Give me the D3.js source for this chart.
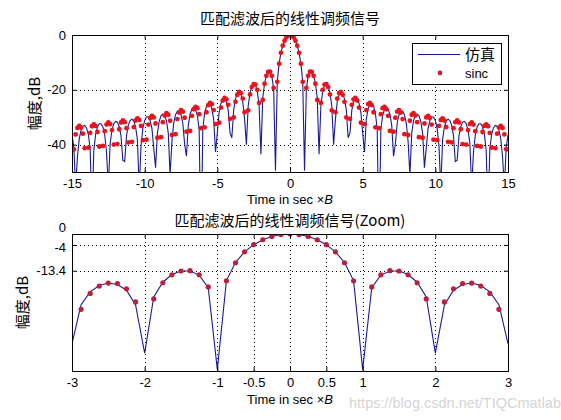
<!DOCTYPE html>
<html><head><meta charset="utf-8">
<script src="https://cdn.jsdelivr.net/npm/d3@7"></script>
<style>body{margin:0;background:#fff}svg{display:block}</style>
</head><body>
<svg id="c" width="561" height="420"></svg>
<script>
// ---- data (dB), sampled every 0.125 of Time x B ----
const sampleStep = 0.125;
const sampleFirst = -15;
// sinc reference (red dots), x = -15 ... 15
const sincDb = [
-120,-41.7,-36.3,-33.9,-33.2,-33.8,-36.0,-41.3, -120,-41.1,-35.7,-33.3,-32.6,-33.2,-35.4,-40.7,
-120,-40.5,-35.1,-32.7,-31.9,-32.5,-34.7,-40.0, -120,-39.8,-34.4,-31.9,-31.2,-31.8,-34.0,-39.2,
-120,-39.0,-33.6,-31.2,-30.4,-31.0,-33.2,-38.4, -120,-38.2,-32.7,-30.3,-29.5,-30.1,-32.3,-37.5,
-120,-37.3,-31.8,-29.4,-28.5,-29.1,-31.3,-36.5, -120,-36.2,-30.7,-28.3,-27.4,-28.0,-30.2,-35.3,
-120,-35.0,-29.5,-27.1,-26.2,-26.7,-28.9,-34.0, -120,-33.7,-28.2,-25.6,-24.8,-25.2,-27.4,-32.5,
-120,-32.0,-26.5,-23.9,-23.0,-23.5,-25.5,-30.6, -120,-30.1,-24.4,-21.8,-20.8,-21.2,-23.2,-28.2,
-120,-27.5,-21.7,-19.0,-17.9,-18.1,-20.0,-24.8, -120,-23.7,-17.8,-14.9,-13.5,-13.4,-14.9,-19.3,
-120,-17.1,-10.5,-6.5,-3.9,-2.1,-0.9,-0.2,
0,
-0.2,-0.9,-2.1,-3.9,-6.5,-10.5,-17.1,-120, -19.3,-14.9,-13.4,-13.5,-14.9,-17.8,-23.7,-120,
-24.8,-20.0,-18.1,-17.9,-19.0,-21.7,-27.5,-120, -28.2,-23.2,-21.2,-20.8,-21.8,-24.4,-30.1,-120,
-30.6,-25.5,-23.5,-23.0,-23.9,-26.5,-32.0,-120, -32.5,-27.4,-25.2,-24.8,-25.6,-28.2,-33.7,-120,
-34.0,-28.9,-26.7,-26.2,-27.1,-29.5,-35.0,-120, -35.3,-30.2,-28.0,-27.4,-28.3,-30.7,-36.2,-120,
-36.5,-31.3,-29.1,-28.5,-29.4,-31.8,-37.3,-120, -37.5,-32.3,-30.1,-29.5,-30.3,-32.7,-38.2,-120,
-38.4,-33.2,-31.0,-30.4,-31.2,-33.6,-39.0,-120, -39.2,-34.0,-31.8,-31.2,-31.9,-34.4,-39.8,-120,
-40.0,-34.7,-32.5,-31.9,-32.7,-35.1,-40.5,-120, -40.7,-35.4,-33.2,-32.6,-33.3,-35.7,-41.1,-120,
-41.3,-36.0,-33.8,-33.2,-33.9,-36.3,-41.7,-120
];
// simulated matched-filter output (blue line), x = -15 ... 15
const simDb = [
-36.5,
-41.0,-55.5,-44.5,-37.8,-34.7,-33.3,-33.0,-33.9,
-36.3,-41.4,-66.8,-42.2,-36.3,-33.6,-32.4,-32.4,
-33.6,-36.4,-42.7,-55.6,-39.5,-34.7,-32.4,-31.5,
-31.8,-33.4,-36.9,-45.8,-46.2,-36.8,-33.0,-31.2,
-30.7,-31.4,-33.5,-38.2,-56.1,-40.3,-34.1,-31.2,
-29.9,-29.9,-31.2,-34.1,-41.3,-48.4,-35.9,-31.5,
-29.5,-28.8,-29.3,-31.3,-35.8,-51.1,-38.8,-32.1,
-29.1,-27.8,-27.8,-29.1,-32.2,-39.8,-44.2,-33.0,
-28.9,-27.0,-26.4,-27.1,-29.3,-34.6,-101.4,-34.2,
-28.6,-26.0,-25.0,-25.2,-26.9,-30.8,-42.7,-35.7,
-28.2,-24.9,-23.4,-23.2,-24.4,-27.5,-35.7,-37.5,
-27.3,-23.3,-21.4,-20.9,-21.7,-24.3,-30.7,-40.0,
-25.8,-21.1,-18.8,-17.9,-18.4,-20.5,-25.9,-43.5,
-23.0,-17.6,-14.8,-13.5,-13.5,-15.0,-19.6,-49.5,
-17.0,-10.4,-6.5,-3.9,-2.1,-0.9,-0.2,
0,
-0.2,-0.9,-2.1,-3.9,-6.5,-10.4,-17.0,
-49.5,-19.6,-15.0,-13.5,-13.5,-14.8,-17.6,-23.0,
-43.5,-25.9,-20.5,-18.4,-17.9,-18.8,-21.1,-25.8,
-40.0,-30.7,-24.3,-21.7,-20.9,-21.4,-23.3,-27.3,
-37.5,-35.7,-27.5,-24.4,-23.2,-23.4,-24.9,-28.2,
-35.7,-42.7,-30.8,-26.9,-25.2,-25.0,-26.0,-28.6,
-34.2,-101.4,-34.6,-29.3,-27.1,-26.4,-27.0,-28.9,
-33.0,-44.2,-39.8,-32.2,-29.1,-27.8,-27.8,-29.1,
-32.1,-38.8,-51.1,-35.8,-31.3,-29.3,-28.8,-29.5,
-31.5,-35.9,-48.4,-41.3,-34.1,-31.2,-29.9,-29.9,
-31.2,-34.1,-40.3,-56.1,-38.2,-33.5,-31.4,-30.7,
-31.2,-33.0,-36.8,-46.2,-45.8,-36.9,-33.4,-31.8,
-31.5,-32.4,-34.7,-39.5,-55.6,-42.7,-36.4,-33.6,
-32.4,-32.4,-33.6,-36.3,-42.2,-66.8,-41.4,-36.3,
-33.9,-33.0,-33.3,-34.7,-37.8,-44.5,-55.5,-41.0,
-36.5
];
const topXTicks = [-15,-10,-5,0,5,10,15];
const topYTicks = [-40,-20,0];
const zoomXTicks = [-3,-2,-1,-0.5,0,0.5,1,2,3];
const zoomYTicks = [-13.4,-4,0];
const topTitle = "匹配滤波后的线性调频信号";
const zoomTitle = "匹配滤波后的线性调频信号(Zoom)";
const yLabel = "幅度,dB";
const legendLabels = ["仿真","sinc"];
const watermark = "https://blog.csdn.net/TIQCmatlab";

// ---- rendering ----
const LAT = "'Liberation Sans', Arial, sans-serif";
const CJK = "'Noto Sans CJK SC', sans-serif";
const BLUE = "#1a1a94";
const svg = d3.select("#c");
const points = sincDb.map((v,i)=>({x: sampleFirst + i*sampleStep, sinc: v, sim: simDb[i]}));

function panel(o){
  const x = d3.scaleLinear().domain(o.xd).range([o.l, o.r]);
  const y = d3.scaleLinear().domain([-50,0]).range([o.b, o.t]);
  const g = svg.append("g");
  const cid = "clip"+o.id;
  svg.append("clipPath").attr("id",cid).append("rect")
    .attr("x",o.l).attr("y",o.t).attr("width",o.r-o.l).attr("height",o.b-o.t);
  // grid
  g.selectAll(".gx").data(o.xt).join("line")
    .attr("x1",d=>Math.round(x(d))+0.5).attr("x2",d=>Math.round(x(d))+0.5)
    .attr("y1",o.t).attr("y2",o.b).attr("stroke","#000").attr("stroke-width",1).attr("stroke-dasharray","1,3");
  g.selectAll(".gy").data(o.yt).join("line")
    .attr("y1",d=>Math.round(y(d))+0.5).attr("y2",d=>Math.round(y(d))+0.5)
    .attr("x1",o.l).attr("x2",o.r).attr("stroke","#000").attr("stroke-width",1).attr("stroke-dasharray","1,3");
  const data = points.filter(p=>p.x>=o.xd[0]-1e-9 && p.x<=o.xd[1]+1e-9);
  const dg = g.append("g").attr("clip-path",`url(#${cid})`);
  dg.append("path").datum(data)
    .attr("d", d3.line().x(p=>x(p.x)).y(p=>y(Math.max(p.sim,-80))))
    .attr("fill","none").attr("stroke",BLUE).attr("stroke-width",1.1);
  dg.selectAll("circle").data(data.filter(p=>p.sinc>-50)).join("circle")
    .attr("cx",p=>x(p.x)).attr("cy",p=>y(p.sinc)).attr("r",o.dotR).attr("fill",o.dotColor);
  // axes box and ticks
  const ax = g.append("g");
  const xb = d3.axisBottom(x).tickValues(o.xt).tickSize(-4).tickPadding(7).tickFormat(d=>String(d));
  ax.append("g").attr("transform",`translate(0,${o.b})`).call(xb);
  ax.append("g").attr("transform",`translate(0,${o.t})`).call(d3.axisTop(x).tickValues(o.xt).tickSize(-4).tickFormat(""));
  const yl = d3.axisLeft(y).tickValues(o.yt).tickSize(-4).tickPadding(6).tickFormat(d=>String(d));
  const yg = ax.append("g").attr("transform",`translate(${o.l},0)`).call(yl);
  ax.append("g").attr("transform",`translate(${o.r},0)`).call(d3.axisRight(y).tickValues(o.yt).tickSize(-4).tickFormat(""));
  ax.selectAll(".domain").attr("stroke","#000").attr("stroke-width",1);
  ax.selectAll(".tick line").attr("stroke","#000");
  ax.selectAll("text").attr("font-family",LAT).attr("font-size",13).attr("fill","#000");
  if (o.nudge) yg.selectAll(".tick text").attr("dy", d => d===0 ? "0.05em" : (d===-4 ? "0.42em" : "0.32em"))
    .attr("transform", d => d===0 ? "translate(0,-3)" : (d===-4 ? "translate(0,1)" : null));
  // title and labels
  svg.append("text").attr("x",(o.l+o.r)/2).attr("y",o.titleY).attr("text-anchor","middle")
    .attr("font-family",CJK).attr("font-size",15).text(o.title);
  const xl = svg.append("text").attr("x",(o.l+o.r)/2).attr("y",o.xlabY).attr("text-anchor","middle")
    .attr("font-family",LAT).attr("font-size",13);
  xl.append("tspan").text("Time in sec \u00d7");
  xl.append("tspan").attr("font-style","italic").text("B");
  svg.append("text").attr("transform",`translate(${o.ylabX},${(o.t+o.b)/2}) rotate(-90)`)
    .attr("text-anchor","middle").attr("font-family",CJK).attr("font-size",15).text(yLabel);
  return {x,y};
}

panel({id:"a", l:72, r:508, t:35, b:172, xd:[-15,15], xt:topXTicks, yt:topYTicks,
  title:topTitle, titleY:24, xlabY:204, ylabX:40, dotR:2.4, dotColor:"#e8141c"});
panel({id:"b", l:72, r:508, t:234, b:371, xd:[-3,3], xt:zoomXTicks, yt:zoomYTicks,
  title:zoomTitle, titleY:226, xlabY:404, ylabX:28, dotR:2.6, dotColor:"#b8203c", nudge:true});

// legend
const lg = svg.append("g");
lg.append("rect").attr("x",412.5).attr("y",43.5).attr("width",89).attr("height",41)
  .attr("fill","#fff").attr("stroke","#000");
lg.append("line").attr("x1",418).attr("x2",460).attr("y1",54.5).attr("y2",54.5).attr("stroke",BLUE).attr("stroke-width",1.1);
lg.append("text").attr("x",465).attr("y",60).attr("font-family",CJK).attr("font-size",15).text(legendLabels[0]);
lg.append("circle").attr("cx",440).attr("cy",73).attr("r",2.4).attr("fill","#c0203a");
lg.append("text").attr("x",465).attr("y",77.5).attr("font-family",LAT).attr("font-size",13).text(legendLabels[1]);

// watermark
svg.append("text").attr("x",561).attr("y",408).attr("text-anchor","end")
  .attr("font-family",LAT).attr("font-size",14.5).attr("fill","#cfcfcf").attr("fill-opacity",0.9).text(watermark);
</script>
</body></html>
